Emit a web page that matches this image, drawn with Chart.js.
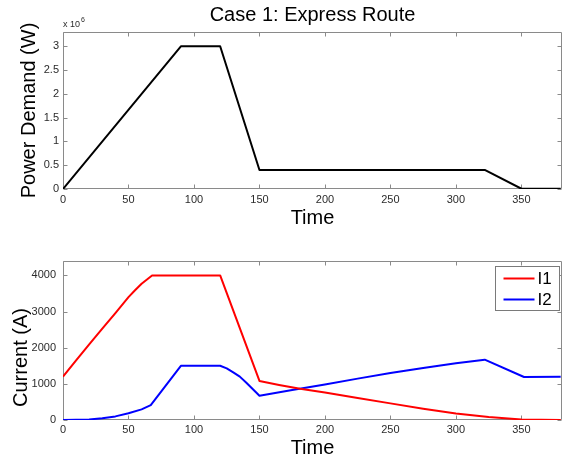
<!DOCTYPE html>
<html>
<head>
<meta charset="utf-8">
<script src="https://cdn.jsdelivr.net/npm/chart.js@4.4.1/dist/chart.umd.min.js"></script>
<style>
html,body{margin:0;padding:0;background:#ffffff;}
#wrap{position:relative;width:570px;height:458px;overflow:hidden;}
#c1{position:absolute;left:0;top:0;}
#c2{position:absolute;left:0;top:230px;}
</style>
</head>
<body>
<div id="wrap">
<canvas id="c1" width="570" height="230"></canvas>
<canvas id="c2" width="570" height="228"></canvas>
</div>
<script>
// ---------- data ----------
const chartTitle = "Case 1: Express Route";
const xTicks = [0, 50, 100, 150, 200, 250, 300, 350];
const powerYTicks = [0, 0.5e6, 1e6, 1.5e6, 2e6, 2.5e6, 3e6];
const currentYTicks = [0, 1000, 2000, 3000, 4000];

const powerTime = [0, 90, 120, 150, 322, 350, 380];
const powerW    = [0, 3.0e6, 3.0e6, 0.4e6, 0.4e6, 0.005e6, 0.005e6];

const i1Time = [0, 10, 20, 30, 40, 50, 55, 60, 68, 120, 150, 165, 181, 200, 225, 250, 275, 300, 325, 350, 380];
const i1Amp  = [1200, 1650, 2090, 2530, 2960, 3400, 3590, 3770, 4000, 4000, 1080, 970, 865, 760, 610, 460, 310, 180, 80, 15, 0];

const i2Time = [0, 10, 20, 30, 40, 50, 60, 67, 90, 120, 125, 130, 135, 140, 145, 150, 175, 200, 225, 250, 275, 300, 322, 352, 380];
const i2Amp  = [0, 4, 15, 50, 100, 185, 295, 410, 1500, 1500, 1430, 1320, 1200, 1030, 850, 670, 830, 985, 1145, 1300, 1440, 1570, 1670, 1190, 1200];

// ---------- style ----------
const FONT = "'Liberation Sans', Arial, Helvetica, sans-serif";
const AXIS = '#8a8a8a';
const TICKTXT = '#2b2b2b';
Chart.defaults.font.family = FONT;

const toXY = (xs, ys) => xs.map((x, i) => ({x: x, y: ys[i]}));

const framePlugin = {
  id: 'frame',
  beforeDatasetsDraw(chart, args, opts) {
    const {ctx, chartArea: a, scales} = chart;
    const L = Math.round(a.left) + 0.5, R = Math.round(a.right) - 0.5;
    const T = Math.round(a.top) + 0.5, B = Math.round(a.bottom) - 0.5;
    ctx.save();
    ctx.strokeStyle = AXIS;
    ctx.lineWidth = 1;
    ctx.beginPath();
    ctx.rect(L, T, R - L, B - T);
    const tl = 4;
    scales.x.ticks.forEach(t => {
      const px = Math.round(scales.x.getPixelForValue(t.value)) + 0.5;
      ctx.moveTo(px, B); ctx.lineTo(px, B - tl);
      ctx.moveTo(px, T); ctx.lineTo(px, T + tl);
    });
    scales.y.ticks.forEach(t => {
      const py = Math.round(scales.y.getPixelForValue(t.value)) + 0.5;
      ctx.moveTo(L, py); ctx.lineTo(L + tl, py);
      ctx.moveTo(R, py); ctx.lineTo(R - tl, py);
    });
    ctx.stroke();

    if (opts.exponent) {
      ctx.fillStyle = TICKTXT;
      ctx.font = '9px ' + FONT;
      ctx.textBaseline = 'alphabetic';
      ctx.textAlign = 'left';
      const base = 'x 10';
      ctx.fillText(base, a.left, a.top - 5);
      const w = ctx.measureText(base).width;
      ctx.font = '7px ' + FONT;
      ctx.fillText(opts.exponent, a.left + w + 1, a.top - 10);
    }
    ctx.restore();
  },
  afterDatasetsDraw(chart, args, opts) {
    const {ctx, chartArea: a} = chart;
    ctx.save();
    if (opts.ytitle) {
      ctx.fillStyle = '#000000';
      ctx.font = opts.ytitleSize + 'px ' + FONT;
      ctx.textAlign = 'center';
      ctx.textBaseline = 'middle';
      ctx.translate(opts.ytitleX, (a.top + a.bottom) / 2 + opts.ytitleShift);
      ctx.rotate(-Math.PI / 2);
      ctx.fillText(opts.ytitle, 0, 0);
      ctx.setTransform(1, 0, 0, 1, 0, 0);
    }
    if (opts.legend) {
      const ds = chart.data.datasets;
      const bw = 64, bh = 44;
      const bx = Math.round(a.right) - 3 - bw + 0.5;
      const by = Math.round(a.top) + 5 + 0.5;
      ctx.fillStyle = '#ffffff';
      ctx.fillRect(bx, by, bw, bh);
      ctx.strokeStyle = '#7a7a7a';
      ctx.lineWidth = 1;
      ctx.strokeRect(bx, by, bw, bh);
      ctx.font = '17px ' + FONT;
      ctx.textBaseline = 'middle';
      ctx.textAlign = 'left';
      ds.forEach((d, i) => {
        const yy = by + 12 + i * 21;
        ctx.strokeStyle = d.borderColor;
        ctx.lineWidth = 2;
        ctx.beginPath();
        ctx.moveTo(bx + 8, yy); ctx.lineTo(bx + 39, yy);
        ctx.stroke();
        ctx.fillStyle = '#000000';
        ctx.fillText(d.label, bx + 42, yy + 1);
      });
    }
    ctx.restore();
  }
};

const titlePlugin = {
  id: 'topTitle',
  afterDraw(chart, args, opts) {
    if (!opts.text) return;
    const {ctx, chartArea: a} = chart;
    ctx.save();
    ctx.fillStyle = '#000000';
    ctx.font = '20px ' + FONT;
    ctx.textAlign = 'center';
    ctx.textBaseline = 'middle';
    ctx.fillText(opts.text, (a.left + a.right) / 2, 15);
    ctx.restore();
  }
};

function makeOptions(cfg) {
  return {
    responsive: false,
    animation: false,
    devicePixelRatio: 1,
    layout: {padding: {top: cfg.top, right: 8, left: 0, bottom: 0}},
    plugins: {
      legend: {display: false},
      tooltip: {enabled: false},
      frame: {exponent: cfg.exponent, legend: cfg.legend, ytitle: cfg.ytitle, ytitleSize: cfg.ytitleSize, ytitleX: cfg.ytitleX, ytitleShift: cfg.ytitleShift},
      topTitle: {text: cfg.title}
    },
    elements: {point: {radius: 0}, line: {tension: 0, borderWidth: 2, borderJoinStyle: 'round', borderCapStyle: 'butt'}},
    scales: {
      x: {
        type: 'linear',
        min: 0, max: 381,
        afterBuildTicks: s => { s.ticks = xTicks.map(v => ({value: v})); },
        ticks: {color: TICKTXT, font: {size: 11}, padding: cfg.xpad, maxRotation: 0, autoSkip: false, includeBounds: false},
        grid: {display: false, drawTicks: false},
        border: {display: false},
        title: {display: true, text: 'Time', color: '#000000', font: {size: 20, lineHeight: 1}, padding: {top: 0, bottom: cfg.xtitlePad}},
        afterFit: s => { s.height = cfg.xh; }
      },
      y: {
        type: 'linear',
        min: 0, max: cfg.ymax,
        afterBuildTicks: s => { s.ticks = cfg.yTicks.map(v => ({value: v})); },
        ticks: {color: TICKTXT, font: {size: 11}, padding: cfg.ypad, autoSkip: false, callback: cfg.yfmt},
        grid: {display: false, drawTicks: false},
        border: {display: false},
        title: {display: false},
        afterFit: s => { s.width = 63; }
      }
    }
  };
}

new Chart(document.getElementById('c1'), {
  type: 'line',
  data: {datasets: [{label: 'Power', data: toXY(powerTime, powerW), borderColor: '#000000', backgroundColor: '#000000', fill: false}]},
  options: makeOptions({top: 32, xh: 41, xpad: 4, xtitlePad: 2, ymax: 3.3e6, yTicks: powerYTicks,
    yfmt: v => String(v / 1e6), ypad: 4, ytitle: 'Power Demand (W)', ytitleSize: 20, ytitleX: 29, ytitleShift: 0,
    exponent: '6', legend: false, title: chartTitle}),
  plugins: [framePlugin, titlePlugin]
});

new Chart(document.getElementById('c2'), {
  type: 'line',
  data: {datasets: [
    {label: 'I1', data: toXY(i1Time, i1Amp), borderColor: '#ff0000', backgroundColor: '#ff0000', fill: false},
    {label: 'I2', data: toXY(i2Time, i2Amp), borderColor: '#0000ff', backgroundColor: '#0000ff', fill: false}
  ]},
  options: makeOptions({top: 31, xh: 38, xpad: 3, xtitlePad: 0, ymax: 4400, yTicks: currentYTicks,
    yfmt: v => String(v), ypad: 7, ytitle: 'Current (A)', ytitleSize: 20, ytitleX: 21, ytitleShift: 17,
    exponent: null, legend: true, title: null}),
  plugins: [framePlugin, titlePlugin]
});
</script>
</body>
</html>
